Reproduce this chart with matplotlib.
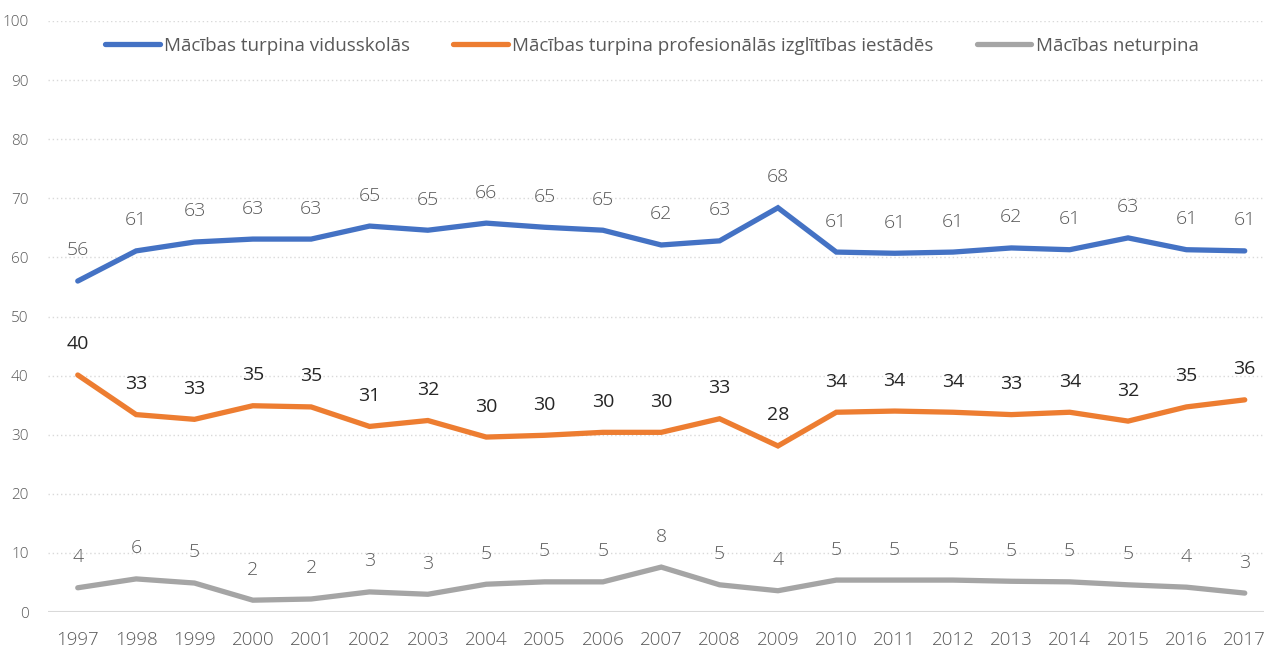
import numpy as np
import matplotlib
matplotlib.use('Agg')
import matplotlib.pyplot as plt

plt.rcParams['font.family'] = ['Open Sans', 'DejaVu Sans']

years = list(range(1997, 2018))

vidusskola = [56.0, 61.1, 62.6, 63.1, 63.1, 65.3, 64.6, 65.8, 65.1, 64.6, 62.1,
              62.8, 68.4, 60.9, 60.7, 60.9, 61.6, 61.3, 63.3, 61.3, 61.1]
profesionala = [40.1, 33.4, 32.6, 34.9, 34.7, 31.4, 32.4, 29.6, 29.9, 30.4, 30.4,
                32.7, 28.1, 33.8, 34.0, 33.8, 33.4, 33.8, 32.3, 34.7, 35.9]
neturpina = [4.1, 5.6, 4.9, 2.0, 2.2, 3.4, 3.0, 4.7, 5.1, 5.1, 7.6,
             4.6, 3.6, 5.4, 5.4, 5.4, 5.2, 5.1, 4.6, 4.2, 3.2]

names = ['Mācības turpina vidusskolās',
         'Mācības turpina profesionālās izglītības iestādēs',
         'Mācības neturpina']
colors = ['#4472C4', '#ED7D31', '#A5A5A5']
label_colors = ['#595959', '#262626', '#595959']

fig = plt.figure(figsize=(12.64, 6.53), dpi=100)
ax = fig.add_axes([48 / 1264, 41 / 653, 1 - 48 / 1264, 591 / 653])

for vals, name, c, lc in zip([vidusskola, profesionala, neturpina], names, colors, label_colors):
    ax.plot(years, vals, color=c, lw=3.8, label=name, solid_capstyle='round',
            solid_joinstyle='miter')
    for x, v in zip(years, vals):
        ax.annotate(f'{round(v)}', (x, v), xytext=(0, 22), textcoords='offset points',
                    ha='center', va='center', fontsize=14, color=lc,
                    fontweight='light' if lc == '#595959' else 'normal')

ax.set_xlim(1996.49, 2017.33)
ax.set_ylim(0, 100)
ax.set_yticks(range(0, 101, 10))
ax.set_xticks(years)
ax.grid(axis='y', linestyle=(0, (1, 2)), color='#D9D9D9', lw=1)
ax.axhline(0, color='#D9D9D9', lw=1.5)
for s in ax.spines.values():
    s.set_visible(False)
ax.tick_params(length=0, labelcolor='#595959')
ax.tick_params(axis='x', labelsize=13.5, pad=14)
ax.tick_params(axis='y', labelsize=11, pad=14)
for t in ax.get_xticklabels() + ax.get_yticklabels():
    t.set_fontweight('light')

fig.legend(loc='center', bbox_to_anchor=(652 / 1264, 1 - 46 / 653), ncol=3, frameon=False,
           fontsize=13.5, labelcolor='#595959', handlelength=2.9, handletextpad=0.25,
           columnspacing=2.3)

fig.savefig('out.png', dpi=100)
